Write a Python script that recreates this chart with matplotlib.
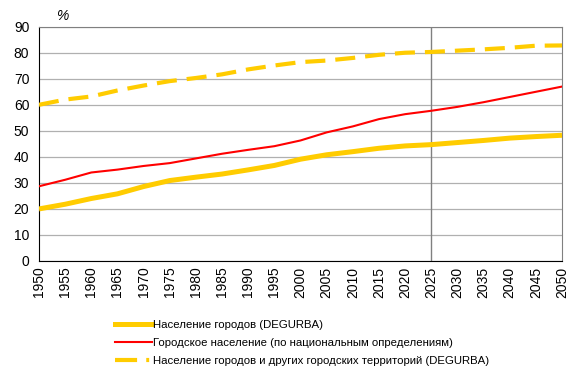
import matplotlib.pyplot as plt
from matplotlib.lines import Line2D

plt.rcParams['font.family'] = ['Liberation Sans', 'DejaVu Sans']

# data
years = [1950, 1955, 1960, 1965, 1970, 1975, 1980, 1985, 1990, 1995, 2000,
         2005, 2010, 2015, 2020, 2025, 2030, 2035, 2040, 2045, 2050]
cities = [20.0, 21.8, 24.0, 25.8, 28.6, 30.9, 32.2, 33.4, 35.0, 36.7, 39.1,
          40.8, 42.0, 43.3, 44.2, 44.7, 45.5, 46.3, 47.2, 47.8, 48.3]
national = [28.7, 31.2, 34.0, 35.1, 36.5, 37.6, 39.4, 41.2, 42.7, 44.1, 46.3,
            49.4, 51.7, 54.5, 56.4, 57.7, 59.2, 61.0, 63.0, 65.0, 67.0]
urban_areas = [60.0, 62.0, 63.2, 65.5, 67.4, 69.1, 70.3, 71.7, 73.6, 75.1, 76.4,
               77.0, 78.0, 79.2, 80.0, 80.3, 80.8, 81.3, 81.9, 82.7, 82.8]

labels = ["Население городов (DEGURBA)",
          "Городское население (по национальным определениям)",
          "Население городов и других городских территорий (DEGURBA)"]

YEL = "#FFCC00"
RED = "#FF0000"

fig = plt.figure(figsize=(5.76, 3.73), dpi=100)
ax = fig.add_axes([0.0677, 0.3003, 0.9080, 0.6281])

ax.plot(years, cities, color=YEL, lw=3.6, solid_capstyle='butt', zorder=3)
ax.plot(years, national, color=RED, lw=1.5, zorder=3)
ax.plot(years, urban_areas, color=YEL, lw=3.0, dashes=(4.8, 2.4), zorder=3)

ax.axvline(2025, color="#808080", lw=1.0, zorder=2)

ax.set_xlim(1950, 2050)
ax.set_ylim(0, 90)
ax.set_yticks(range(0, 91, 10))
ax.set_xticks(range(1950, 2051, 5))
ax.set_xticklabels([str(y) for y in range(1950, 2051, 5)], rotation=90)
ax.tick_params(length=0, labelsize=10)
ax.tick_params(axis='y', pad=7)
ax.tick_params(axis='x', pad=4)
ax.yaxis.grid(True, color="#B0B0B0", lw=0.9)
ax.set_axisbelow(True)

for s in ['top', 'right']:
    ax.spines[s].set_color("#808080")
for s in ['left', 'bottom']:
    ax.spines[s].set_color("black")

fig.text(0.097, 0.958, "%", fontsize=10, style='italic', ha='left', va='center')

handles = [Line2D([], [], color=YEL, lw=3.6),
           Line2D([], [], color=RED, lw=1.5),
           Line2D([], [], color=YEL, lw=3.0, dashes=(5.3, 2.2, 0.7, 5))]
fig.legend(handles, labels, loc='upper left', bbox_to_anchor=(0.19, 0.158),
           frameon=False, fontsize=8.2, handlelength=3.2, handletextpad=0.15,
           labelspacing=0.7, borderpad=0)

fig.savefig("out.png", dpi=100)
